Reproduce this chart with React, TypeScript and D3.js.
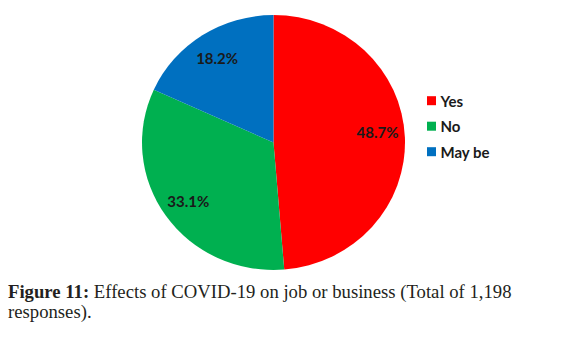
import React from "react";
import * as d3 from "d3";

const categories = ["Yes", "No", "May be"];
const values = [48.7, 33.1, 18.2];
const colors = ["#FF0000", "#00B050", "#0070C0"];
const captionBold = "Figure 11:";
const captionRest = " Effects of COVID-19 on job or business (Total of 1,198";
const captionLine2 = "responses).";

export default function App() {
  const W = 579, H = 339;
  const cx = 273.5, cy = 142.5, r = 127.5, sx = 131.5 / 127.5;
  const pie = d3.pie<number>().sort(null).startAngle(0).endAngle(2 * Math.PI);
  const arcs = pie(values);
  const arc = d3.arc<d3.PieArcDatum<number>>().innerRadius(0).outerRadius(r);
  const labelArc = d3.arc<d3.PieArcDatum<number>>().innerRadius(101).outerRadius(101);
  const legendY = d3.scalePoint<string>().domain(categories).range([100.7, 151.7]);
  return (
    <svg width={W} height={H} style={{ position: "absolute", left: 0, top: 0, background: "#fff" }}>
      <g transform={`translate(${cx},${cy}) scale(${sx},1)`}>
        {arcs.map((a, i) => (
          <path key={i} d={arc(a) || ""} fill={colors[i]} />
        ))}
      </g>
      <g transform={`translate(${cx},${cy})`}>
        {arcs.map((a, i) => {
          const [x, y] = labelArc.centroid(a);
          return (
            <text key={i} x={x * sx} y={y - (i === 0 ? 6 : 0)} textAnchor="middle" dominantBaseline="central"
              fontFamily="Lato" fontWeight="bold" fontSize={15} fill="#1a1a1a">
              {values[i].toFixed(1)}%
            </text>
          );
        })}
      </g>
      {categories.map((c, i) => (
        <g key={c} transform={`translate(427,${legendY(c)})`}>
          <rect x={0} y={-4.5} width={9} height={9} fill={colors[i]} />
          <text x={13.5} y={0} dominantBaseline="central" fontFamily="Lato" fontWeight="bold"
            fontSize={15} fill="#1a1a1a">{c}</text>
        </g>
      ))}
      <text x={8} y={298} fontFamily="Liberation Serif" fontSize={18.7} fill="#231f20">
        <tspan fontWeight="bold">{captionBold}</tspan>
        <tspan>{captionRest}</tspan>
      </text>
      <text x={8} y={318} fontFamily="Liberation Serif" fontSize={18.7} fill="#231f20">{captionLine2}</text>
    </svg>
  );
}
